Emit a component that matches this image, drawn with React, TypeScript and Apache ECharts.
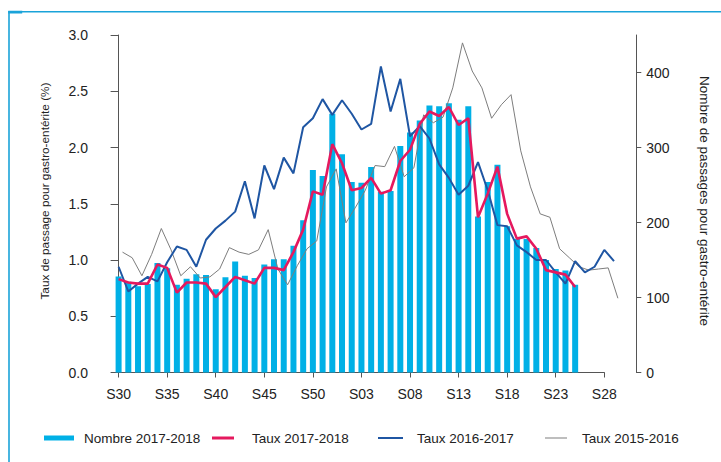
import React, { useEffect, useRef } from 'react';
import * as echarts from 'echarts';

const weeks = [
  'S30', 'S31', 'S32', 'S33', 'S34', 'S35', 'S36', 'S37', 'S38', 'S39', 'S40', 'S41', 'S42',
  'S43', 'S44', 'S45', 'S46', 'S47', 'S48', 'S49', 'S50', 'S51', 'S52', 'S01', 'S02', 'S03',
  'S04', 'S05', 'S06', 'S07', 'S08', 'S09', 'S10', 'S11', 'S12', 'S13', 'S14', 'S15', 'S16',
  'S17', 'S18', 'S19', 'S20', 'S21', 'S22', 'S23', 'S24', 'S25', 'S26', 'S27', 'S28', 'S29',
];

const nombre20172018 = [
  128, 121, 115, 118, 146, 139, 117, 125, 131, 130, 111, 127, 148, 129, 126, 144, 151, 151, 169, 203,
  270, 262, 345, 291, 254, 253, 274, 241, 242, 302, 320, 336, 356, 355, 359, 337, 355, 208, 254, 277,
  195, 178, 178, 166, 150, 138, 136, 117,
];

const taux20172018 = [
  0.83, 0.8, 0.79, 0.79, 0.96, 0.93, 0.71, 0.8, 0.8, 0.79, 0.67, 0.76, 0.85, 0.82, 0.79, 0.93, 0.93, 0.91, 1.07, 1.27,
  1.61, 1.58, 2.03, 1.86, 1.62, 1.64, 1.73, 1.59, 1.62, 1.88, 1.98, 2.21, 2.32, 2.28, 2.36, 2.2, 2.26, 1.38, 1.59, 1.83,
  1.41, 1.19, 1.21, 1.1, 0.91, 0.89, 0.87, 0.76,
];

const taux20162017 = [
  0.94, 0.72, 0.79, 0.85, 0.81, 0.98, 1.12, 1.09, 0.94, 1.18, 1.28, 1.35, 1.43, 1.7, 1.37, 1.84, 1.63, 1.91, 1.77, 2.18,
  2.26, 2.43, 2.29, 2.42, 2.3, 2.16, 2.21, 2.72, 2.32, 2.61, 2.1, 2.19, 2.08, 1.85, 1.73, 1.58, 1.66, 1.87, 1.62, 1.31,
  1.3, 1.13, 1.07, 1.0, 1.0, 0.89, 0.79, 0.99, 0.89, 0.94, 1.09, 0.99,
];

const taux20152016 = [
  1.07, 1.02, 0.86, 1.05, 1.28, 1.09, 0.86, 0.94, 0.84, 0.85, 0.92, 1.11, 1.07, 1.05, 1.09, 1.27, 0.92, 0.78, 0.95, 1.1,
  1.17, 1.65, 1.81, 1.33, 1.47, 1.62, 1.84, 1.83, 2.01, 1.74, 1.82, 2.29, 2.22, 2.27, 2.53, 2.93, 2.68, 2.53, 2.26, 2.38,
  2.47, 1.97, 1.65, 1.41, 1.38, 1.1, 1.02, 0.94, 0.91, 0.92, 0.93, 0.66,
];
// the 2015-2016 season (53 weeks) is drawn slightly shifted along the week axis
const weekShift20152016 = 0.4;

const rightTicks = [0, 100, 200, 300, 400];

const names = ['Nombre 2017-2018', 'Taux 2017-2018', 'Taux 2016-2017', 'Taux 2015-2016'];
const colors = ['#00b0e6', '#e5195e', '#1f56a3', '#7d7d7d'];

export default function App() {
  const ref = useRef<HTMLDivElement>(null);

  useEffect(() => {
    document.body.style.margin = '0';
    const chart = echarts.init(ref.current!, null, { renderer: 'svg' });
    const font = '"Liberation Sans", Arial, Helvetica, sans-serif';
    const textColor = '#222';
    const axisColor = '#555';

    // week axis geometry: S30 at 118.6px, S28 (index 50) at 604.3px
    const x0 = 118.6;
    const weekPx = (604.3 - 118.6) / 50;
    const top = 35;
    const bottom = 89.5;

    const legendCfg = [
      { left: 44, itemWidth: 30, itemHeight: 5, pad: 5 },
      { left: 212, itemWidth: 22, itemHeight: 3, pad: 13 },
      { left: 378, itemWidth: 25, itemHeight: 2, pad: 9 },
      { left: 545, itemWidth: 22, itemHeight: 1, pad: 10 },
    ];

    const hiddenAxis = {
      axisLine: { show: false },
      axisTick: { show: false },
      axisLabel: { show: false },
      splitLine: { show: false },
    };

    const option: any = {
      animation: false,
      textStyle: { fontFamily: font },
      grid: [
        // data grid: weeks -1 .. 52
        {
          left: x0 - weekPx,
          right: 721 - (x0 + weekPx * 52),
          top,
          bottom,
          containLabel: false,
          outerBoundsMode: 'none',
        },
        // display grid: weeks 0 .. 50
        { left: x0, right: 721 - (x0 + weekPx * 50), top, bottom, containLabel: false, outerBoundsMode: 'none' },
      ],
      xAxis: [
        { type: 'value', gridIndex: 0, min: -1, max: 52, ...hiddenAxis },
        {
          type: 'value',
          gridIndex: 1,
          min: 0,
          max: 50,
          interval: 5,
          offset: 8,
          axisLine: { show: true, lineStyle: { color: axisColor, width: 1 } },
          axisTick: { show: true, length: 5, lineStyle: { color: axisColor } },
          axisLabel: {
            formatter: (v: number) => weeks[Math.round(v)] ?? '',
            fontSize: 14,
            color: textColor,
            margin: 6,
            fontFamily: font,
          },
          splitLine: { show: false },
        },
      ],
      yAxis: [
        { type: 'value', gridIndex: 0, min: 0, max: 3, ...hiddenAxis },
        { type: 'value', gridIndex: 0, min: 0, max: 450, ...hiddenAxis },
        {
          type: 'value',
          gridIndex: 1,
          min: 0,
          max: 3,
          interval: 0.5,
          position: 'left',
          offset: 18.6,
          axisLine: { show: true, lineStyle: { color: axisColor, width: 1 } },
          axisTick: { show: true, length: 8, lineStyle: { color: axisColor } },
          axisLabel: {
            formatter: (v: number) => v.toFixed(1),
            fontSize: 14,
            color: textColor,
            margin: 12,
            fontFamily: font,
          },
          splitLine: { show: false },
        },
        {
          type: 'value',
          gridIndex: 1,
          min: 0,
          max: 450,
          interval: 100,
          position: 'right',
          offset: 32,
          axisLine: { show: true, lineStyle: { color: axisColor, width: 1 } },
          axisTick: { show: true, length: 5, lineStyle: { color: axisColor }, customValues: rightTicks },
          axisLabel: { fontSize: 14, color: textColor, margin: 10, fontFamily: font, customValues: rightTicks },
          splitLine: { show: false },
        },
      ],
      legend: legendCfg.map((c, i) => ({
        data: [names[i]],
        left: c.left,
        top: 431,
        padding: 0,
        icon: 'rect',
        itemWidth: c.itemWidth,
        itemHeight: c.itemHeight,
        selectedMode: false,
        textStyle: { fontSize: 13.5, color: textColor, fontFamily: font, padding: [0, 0, 0, c.pad] },
      })),
      series: [
        {
          name: names[0],
          type: 'bar',
          xAxisIndex: 0,
          yAxisIndex: 1,
          barWidth: 6,
          itemStyle: { color: colors[0] },
          data: nombre20172018.map((v, i) => [i, v]),
          z: 1,
        },
        {
          name: names[3],
          type: 'line',
          xAxisIndex: 0,
          yAxisIndex: 0,
          showSymbol: false,
          symbol: 'none',
          lineStyle: { color: colors[3], width: 1 },
          itemStyle: { color: colors[3] },
          data: taux20152016.map((v, i) => [i + weekShift20152016, v]),
          z: 2,
        },
        {
          name: names[2],
          type: 'line',
          xAxisIndex: 0,
          yAxisIndex: 0,
          showSymbol: false,
          symbol: 'none',
          lineStyle: { color: colors[2], width: 2 },
          itemStyle: { color: colors[2] },
          data: taux20162017.map((v, i) => [i, v]),
          z: 3,
        },
        {
          name: names[1],
          type: 'line',
          xAxisIndex: 0,
          yAxisIndex: 0,
          showSymbol: false,
          symbol: 'none',
          lineStyle: { color: colors[1], width: 2.6 },
          itemStyle: { color: colors[1] },
          data: taux20172018.map((v, i) => [i, v]),
          z: 4,
        },
      ],
      graphic: [
        { type: 'line', shape: { x1: 9, y1: 11.8, x2: 721, y2: 11.8 }, style: { stroke: '#1aa3d9', lineWidth: 1.6 } },
        { type: 'line', shape: { x1: 9, y1: 11, x2: 9, y2: 462 }, style: { stroke: '#1aa3d9', lineWidth: 1.6 } },
        { type: 'rect', shape: { x: 8.2, y: 10.8, width: 14, height: 2.6 }, style: { fill: '#1aa3d9' } },
        {
          type: 'text',
          x: 45,
          y: 191,
          rotation: Math.PI / 2,
          style: {
            text: 'Taux de passage pour gastro-entérite (%)',
            fontSize: 11.8,
            fontFamily: font,
            fill: textColor,
            align: 'center',
            verticalAlign: 'middle',
          },
        },
        {
          type: 'text',
          x: 704,
          y: 201,
          rotation: -Math.PI / 2,
          style: {
            text: 'Nombre de passages pour gastro-entérite',
            fontSize: 13.5,
            fontFamily: font,
            fill: textColor,
            align: 'center',
            verticalAlign: 'middle',
          },
        },
      ],
    };

    chart.setOption(option);
    return () => chart.dispose();
  }, []);

  return (
    <div
      ref={ref}
      style={{ position: 'fixed', left: 0, top: 0, width: 721, height: 462, background: '#fff' }}
    />
  );
}
